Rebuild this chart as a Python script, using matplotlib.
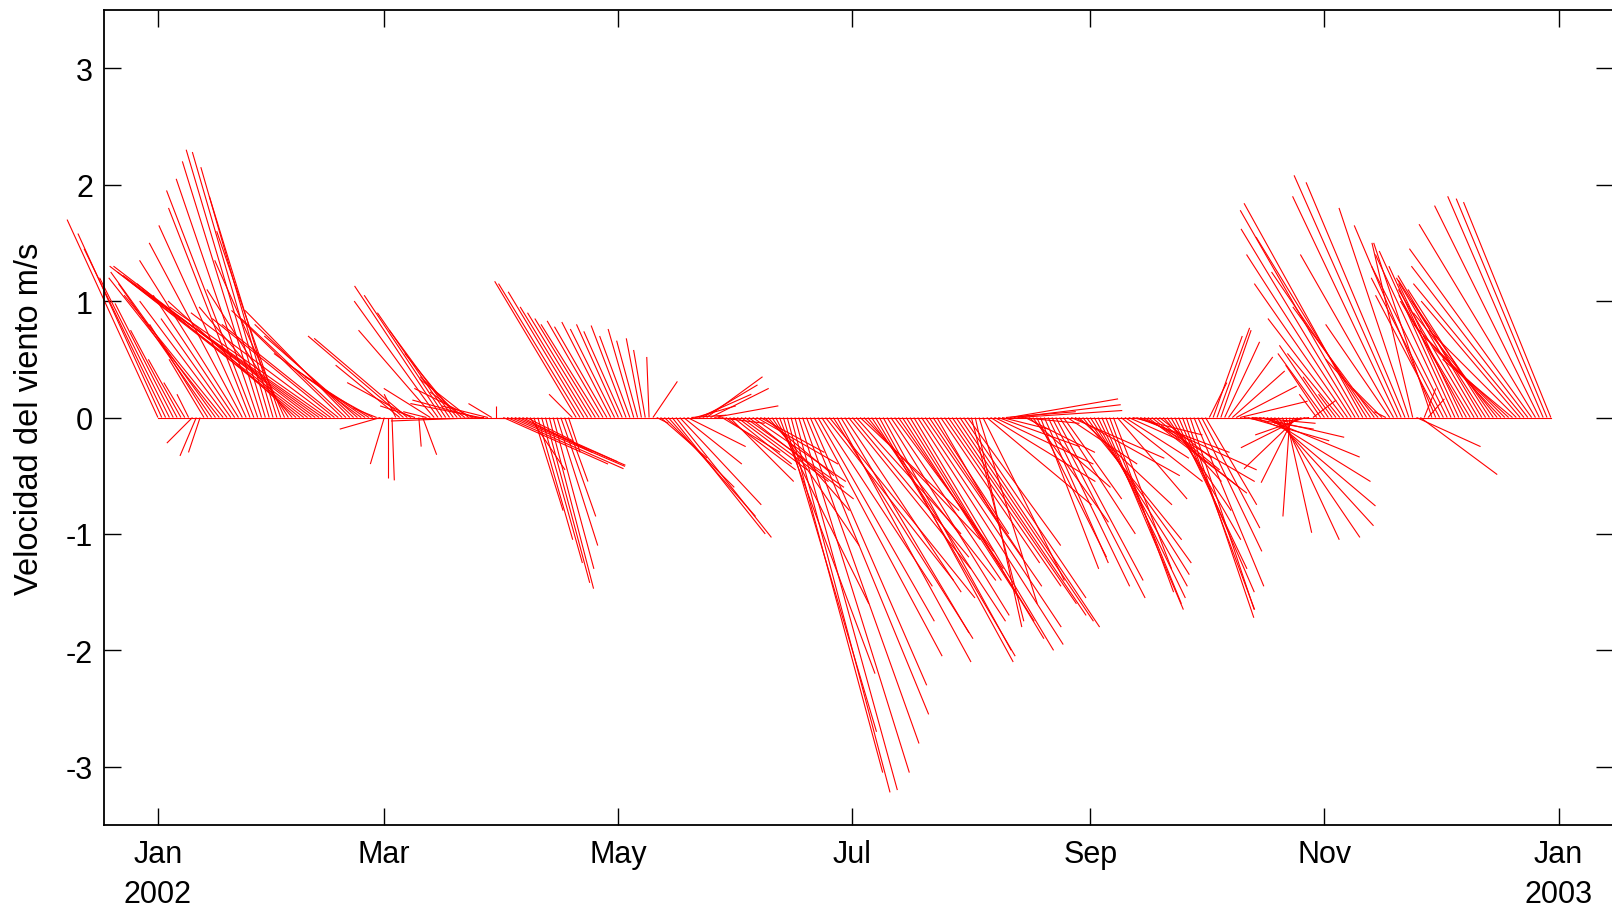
import numpy as np
import pandas as pd
import matplotlib
matplotlib.use("Agg")
import matplotlib.pyplot as plt
import matplotlib.dates as mdates
from matplotlib.collections import LineCollection

# daily wind components (m/s), 2002-01-01 .. 2002-12-30
u_jan = [-0.78, -0.72, -0.70, -0.60, -0.50, -0.40, -0.28, -0.18, -0.10, -0.22, -0.14,
         -0.10, -0.30, -0.50, -0.80, -0.90, -0.95, -0.85, -0.75, -0.60, -0.70, -0.85,
         -0.80, -0.75, -0.70, -0.75, -0.70, -0.68, -0.68, -0.66, -0.62]
v_jan = [1.70, 1.58, 1.45, 1.20, 0.98, 0.75, 0.50, 0.30, 0.20, -0.22, -0.33,
         -0.30, 0.50, 0.80, 1.15, 1.25, 1.20, 1.05, 1.00, 0.85, 1.05, 1.35,
         1.50, 1.65, 1.80, 1.95, 2.05, 2.20, 2.30, 2.28, 2.15]
u_feb = [-0.58, -0.55, -0.60, -0.70, -0.80, -1.10, -1.40, -1.60, -1.70, -1.70, -1.65,
         -1.60, -1.50, -1.35, -1.20, -1.05, -1.00, -0.95, -0.90, -0.90, -0.85, -0.80,
         -0.75, -0.65, -0.55, -0.40, -0.20, -0.35]
v_feb = [1.90, 1.60, 1.35, 1.10, 0.95, 1.00, 1.15, 1.25, 1.30, 1.30, 1.22,
         1.15, 1.05, 0.95, 0.90, 0.85, 0.80, 0.92, 0.85, 0.92, 0.80, 0.70,
         0.55, 0.45, 0.35, 0.22, 0.08, -0.10]
u_mar = [-0.12, 0.00, 0.02, -0.10, -0.55, -0.82, -0.80, -0.55, -0.30, 0.02, 0.12,
         -0.20, -0.40, -0.65, -0.72, -0.75, -0.70, -0.62, -0.55, -0.45, -0.35, -0.30,
         -0.42, -0.50, -0.55, -0.60, -0.80, -0.40, -0.20, 0.00, 0.05]
v_mar = [-0.40, -0.52, -0.54, 0.20, 0.45, 0.70, 0.68, 0.30, 0.10, -0.25, -0.32,
         0.05, 0.25, 0.75, 1.00, 1.13, 1.05, 0.90, 0.75, 0.55, 0.35, 0.22,
         0.33, 0.25, 0.15, 0.12, -0.03, 0.10, 0.12, 0.10, 0.00]
u_apr = [0.90, 1.00, 0.98, 0.95, 0.85, 0.60, 0.40, 0.30, 0.25, 0.30, 0.35,
         0.38, 0.38, 0.35, 0.35, 0.30, 0.20, 0.10, -0.20, -0.70, -0.70, -0.65,
         -0.58, -0.55, -0.52, -0.50, -0.48, -0.45, -0.42, -0.38]
v_apr = [-0.40, -0.44, -0.42, -0.41, -0.38, -0.30, -0.20, -0.45, -0.80, -1.05, -1.25,
         -1.42, -1.47, -1.30, -1.10, -0.85, -0.55, -0.30, 0.20, 1.17, 1.15, 1.08,
         0.95, 0.90, 0.85, 0.80, 0.83, 0.78, 0.82, 0.76]
u_may = [-0.36, -0.33, -0.30, -0.26, -0.22, -0.18, -0.13, -0.10, -0.02, 0.21, 0.10,
         0.40, 0.60, 0.75, 0.80, 0.82, 0.70, 0.50, 0.50, 0.30, 0.35, 0.45,
         0.47, 0.48, 0.50, 0.55, 0.40, 0.50, 0.60, 0.55, 0.50]
v_may = [0.80, 0.74, 0.79, 0.70, 0.76, 0.66, 0.68, 0.58, 0.52, 0.31, -0.05,
         -0.35, -0.60, -0.85, -1.00, -1.03, -0.75, -0.40, -0.25, 0.02, 0.10, 0.20,
         0.28, 0.35, 0.25, 0.10, -0.05, -0.30, -0.45, -0.55, -0.40]
u_jun = [0.60, 0.75, 0.85, 0.90, 0.80, 0.70, 0.55, 0.60, 0.70, 0.75, 0.80,
         0.82, 0.80, 0.82, 0.85, 0.88, 0.95, 1.00, 1.05, 1.00, 1.10, 1.00,
         0.95, 1.10, 1.25, 1.20, 1.15, 1.10, 1.00, 1.05]
v_jun = [-0.45, -0.55, -0.60, -0.70, -0.55, -0.40, -0.30, -0.50, -0.80, -1.10, -1.60,
         -2.20, -2.70, -3.05, -3.22, -3.20, -3.05, -2.80, -2.55, -2.30, -2.05, -1.75,
         -1.45, -1.40, -1.55, -1.90, -2.10, -1.85, -1.50, -1.30]
u_jul = [1.00, 0.90, 0.85, 1.00, 1.10, 1.15, 1.20, 1.15, 1.10, 1.05, 0.95,
         0.85, 0.90, 1.00, 1.10, 1.15, 1.20, 1.25, 1.20, 1.00, 0.80, 0.65,
         0.55, 0.85, 1.00, 1.10, 1.15, 1.18, 1.20, 1.05, 0.80]
v_jul = [-1.20, -1.00, -0.80, -1.05, -1.40, -1.75, -2.05, -2.10, -2.00, -1.70, -1.40,
         -1.15, -1.30, -1.55, -1.75, -1.90, -2.00, -1.95, -1.80, -1.45, -1.20, -1.00,
         -0.95, -1.25, -1.45, -1.60, -1.70, -1.75, -1.80, -1.55, -1.10]
u_aug = [0.45, 0.40, 0.50, 0.70, 0.90, 0.90, 0.85, 0.70, 0.40, 0.60, 0.93,
         0.92, 0.90, 0.50, 0.60, 0.70, 0.65, 0.60, 0.50, 0.55, 0.70, 0.80,
         0.75, 0.65, 0.50, 0.60, 0.80, 0.90, 0.80, 0.85, 0.90]
v_aug = [-1.75, -1.80, -1.60, -1.40, -0.75, -0.55, -0.40, -0.25, -0.10, 0.05, 0.16,
         0.11, 0.06, -0.05, -0.30, -0.60, -0.90, -1.20, -1.30, -1.25, -1.45, -1.55,
         -1.40, -1.00, -0.70, -0.40, -0.35, -0.50, -0.75, -1.05, -1.25]
u_sep = [0.85, 0.80, 0.75, 0.70, 0.65, 0.55, 0.50, 0.60, 0.70, 0.55, 0.45,
         0.60, 0.80, 1.00, 0.95, 0.85, 0.75, 0.55, 0.45, 0.50, 0.55, 0.60,
         0.62, 0.65, 0.62, 0.58, 0.55, 0.60, 0.55, 0.50]
v_sep = [-1.35, -1.45, -1.55, -1.65, -1.60, -1.50, -1.30, -0.70, -0.55, -0.35, -0.20,
         -0.15, -0.30, -0.45, -0.55, -0.65, -0.60, -0.45, -0.35, -0.55, -0.80, -1.05,
         -1.30, -1.50, -1.65, -1.72, -1.65, -1.45, -1.15, -0.95]
u_oct = [0.44, 0.15, 0.25, 0.28, 0.26, 0.30, 0.38, 0.45, 0.52, 0.58, 0.60,
         0.70, 0.55, 0.30, 0.73, 0.83, 0.89, 0.90, 0.85, 0.70, 0.49, 0.22,
         -0.06, -0.28, -0.46, -0.52, -0.43, -0.30, 0.20, -0.15, -0.30]
v_oct = [-0.75, 0.30, 0.70, 0.77, 0.75, 0.65, 0.52, 0.40, 0.27, 0.14, -0.10,
         -0.20, -0.05, -0.12, -0.17, -0.34, -0.55, -0.76, -0.93, -1.03, -1.05, -0.99,
         -0.85, -0.56, -0.44, -0.26, -0.15, -0.05, 0.15, 0.20, 0.45]
u_nov = [-0.40, -0.42, -0.25, -0.15, -0.45, -0.65, -0.80, -0.90, -0.98, -1.02, -1.02,
         -0.95, -0.85, -0.70, -0.45, -0.25, -0.10, -0.55, -0.80, -0.90, -0.92, -0.85,
         -0.60, -0.35, 0.55, 0.66, 0.10, 0.14, -0.50, -0.70]
v_nov = [0.55, 0.62, 0.35, 0.20, 0.55, 0.85, 1.15, 1.40, 1.62, 1.78, 1.84,
         1.55, 1.25, 0.95, 0.50, 0.25, 0.05, 0.80, 1.40, 1.90, 2.08, 2.02,
         1.80, 1.50, -0.25, -0.49, 0.25, 0.16, 1.50, 1.65]
u_dec = [-0.55, -0.62, -0.65, -0.65, -0.65, -0.60, -0.55, -0.58, -0.60, -0.65, -0.70,
         -0.72, -0.75, -0.70, -0.70, -0.72, -0.75, -0.70, -0.65, -0.60, -0.75, -0.85,
         -0.95, -1.00, -1.05, -1.00, -0.90, -0.82, -0.78, -0.75]
v_dec = [1.05, 1.20, 1.30, 1.40, 1.43, 1.30, 1.15, 1.05, 1.00, 1.10, 1.20,
         1.22, 1.18, 1.10, 1.00, 0.90, 0.80, 0.70, 0.60, 0.50, 0.75, 1.00,
         1.15, 1.30, 1.45, 1.66, 1.82, 1.90, 1.88, 1.85]

month_ticks = ["2002-01-01", "2002-03-01", "2002-05-01", "2002-07-01",
               "2002-09-01", "2002-11-01", "2003-01-01"]
month_labels = ["Jan\n2002", "Mar", "May", "Jul", "Sep", "Nov", "Jan\n2003"]
y_ticks = [-3, -2, -1, 0, 1, 2, 3]

u = np.concatenate([u_jan, u_feb, u_mar, u_apr, u_may, u_jun,
                    u_jul, u_aug, u_sep, u_oct, u_nov, u_dec])
v = np.concatenate([v_jan, v_feb, v_mar, v_apr, v_may, v_jun,
                    v_jul, v_aug, v_sep, v_oct, v_nov, v_dec])
dates = pd.date_range("2002-01-01", periods=len(u), freq="D")
t = mdates.date2num(dates)

plt.rcParams["font.family"] = ["Liberation Sans", "DejaVu Sans"]

fig = plt.figure(figsize=(16.12, 9.12), dpi=100)
ax = fig.add_axes([104 / 1612, 86 / 912, 1509 / 1612, 815 / 912])

t0 = mdates.date2num(pd.Timestamp("2002-01-01"))
ax.set_xlim(t0 - 14.05, t0 + 379.2)
ax.set_ylim(-3.5, 3.5)

# days per m/s, so that a stick keeps its true direction on screen
box = ax.get_position()
w_px = box.width * fig.get_figwidth() * fig.dpi
h_px = box.height * fig.get_figheight() * fig.dpi
xspan = ax.get_xlim()[1] - ax.get_xlim()[0]
yspan = ax.get_ylim()[1] - ax.get_ylim()[0]
k = (h_px / yspan) / (w_px / xspan)

segs = [[(ti, 0.0), (ti + ui * k, vi)] for ti, ui, vi in zip(t, u, v)]
sticks = LineCollection(segs, colors="red", linewidths=0.8)
sticks.set_clip_on(False)
ax.add_collection(sticks)
ax.plot([t[0], t[-1]], [0, 0], color="red", linewidth=0.8)

ax.set_xticks(mdates.date2num(pd.to_datetime(month_ticks)))
ax.set_xticklabels(month_labels)
for lbl in ax.get_xticklabels():
    lbl.set_linespacing(1.45)
ax.set_yticks(y_ticks)
ax.set_yticklabels([str(y) for y in y_ticks])

ax.tick_params(direction="in", length=12, width=1.0, top=True, right=True,
               labelsize=22)
ax.tick_params(axis="x", pad=10)
ax.tick_params(axis="y", pad=8)
for s in ax.spines.values():
    s.set_linewidth(1.3)

ax.set_ylabel("Velocidad del viento m/s", fontsize=23.5)
ax.yaxis.set_label_coords(-0.039, 0.5)

fig.savefig("out.png", dpi=100)
plt.close(fig)
